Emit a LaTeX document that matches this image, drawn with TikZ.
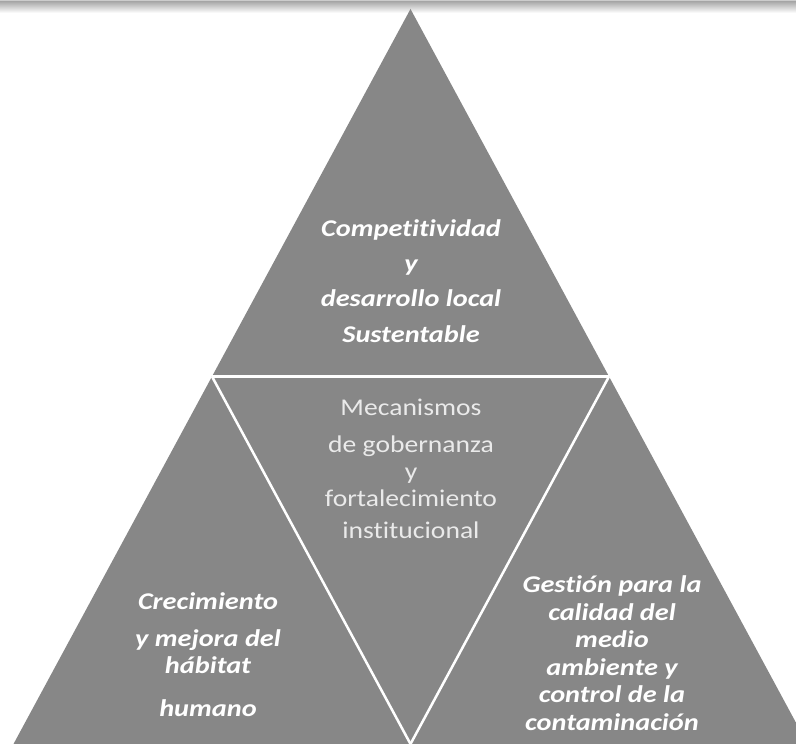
\documentclass[tikz,border=0pt]{standalone}
\usepackage{fontspec}
\newfontfamily\calibri[FakeStretch=1.15, Ligatures=NoCommon]{Carlito}
\newfontfamily\calibribi[FakeStretch=1.18, Ligatures=NoCommon,
  UprightFont=* Bold Italic]{Carlito}
\definecolor{pyrgray}{HTML}{878787}
\definecolor{midtext}{HTML}{EAEAEA}
\tikzset{
  outertext/.style={text=white, align=center, font=\calibribi\fontsize{24}{27}\selectfont},
  innertext/.style={text=midtext, align=center, font=\calibri\fontsize{24}{27}\selectfont},
  divider/.style={draw=white, line width=2.5pt}
}
\begin{document}
\begin{tikzpicture}[x=1pt,y=1pt]

  \useasboundingbox (0,0) rectangle (796,744);
  \clip (0,0) rectangle (796,744);

  \fill[gray!40] (0,742) rectangle (796,744);
  \shade[top color=gray!65, bottom color=white] (0,731) rectangle (796,742);

  \coordinate (apex)  at (410.5,735);
  \coordinate (left)  at (13.5,0);
  \coordinate (right) at (807.5,0);
  \coordinate (ml)    at (212,367.5);
  \coordinate (mr)    at (609,367.5);
  \coordinate (mb)    at (410.5,0);

  \fill[pyrgray] (apex) -- (left) -- (right) -- cycle;
  \draw[divider] (ml) -- (mr);
  \draw[divider] (ml) -- (mb);
  \draw[divider] (mr) -- (mb);

  \node[outertext] (top) at (411,463)
    {Competitividad\\[8pt] y\\[8pt] desarrollo local\\[9pt] Sustentable};
  \node[innertext] (mid) at (411,275)
    {Mecanismos\\[10pt] de gobernanza\\ y\\ fortalecimiento\\[5pt] institucional};
  \node[outertext] (hab) at (208,89)
    {Crecimiento\\[10pt] y mejora del\\ h\'abitat\\[16pt] humano};
  \node[outertext] (amb) at (612,91)
    {Gesti\'on para la\\[0.5pt] calidad del\\[0.5pt] medio\\[0.5pt] ambiente y\\[0.5pt] control de la\\[0.5pt] contaminaci\'on};

\end{tikzpicture}
\end{document}
